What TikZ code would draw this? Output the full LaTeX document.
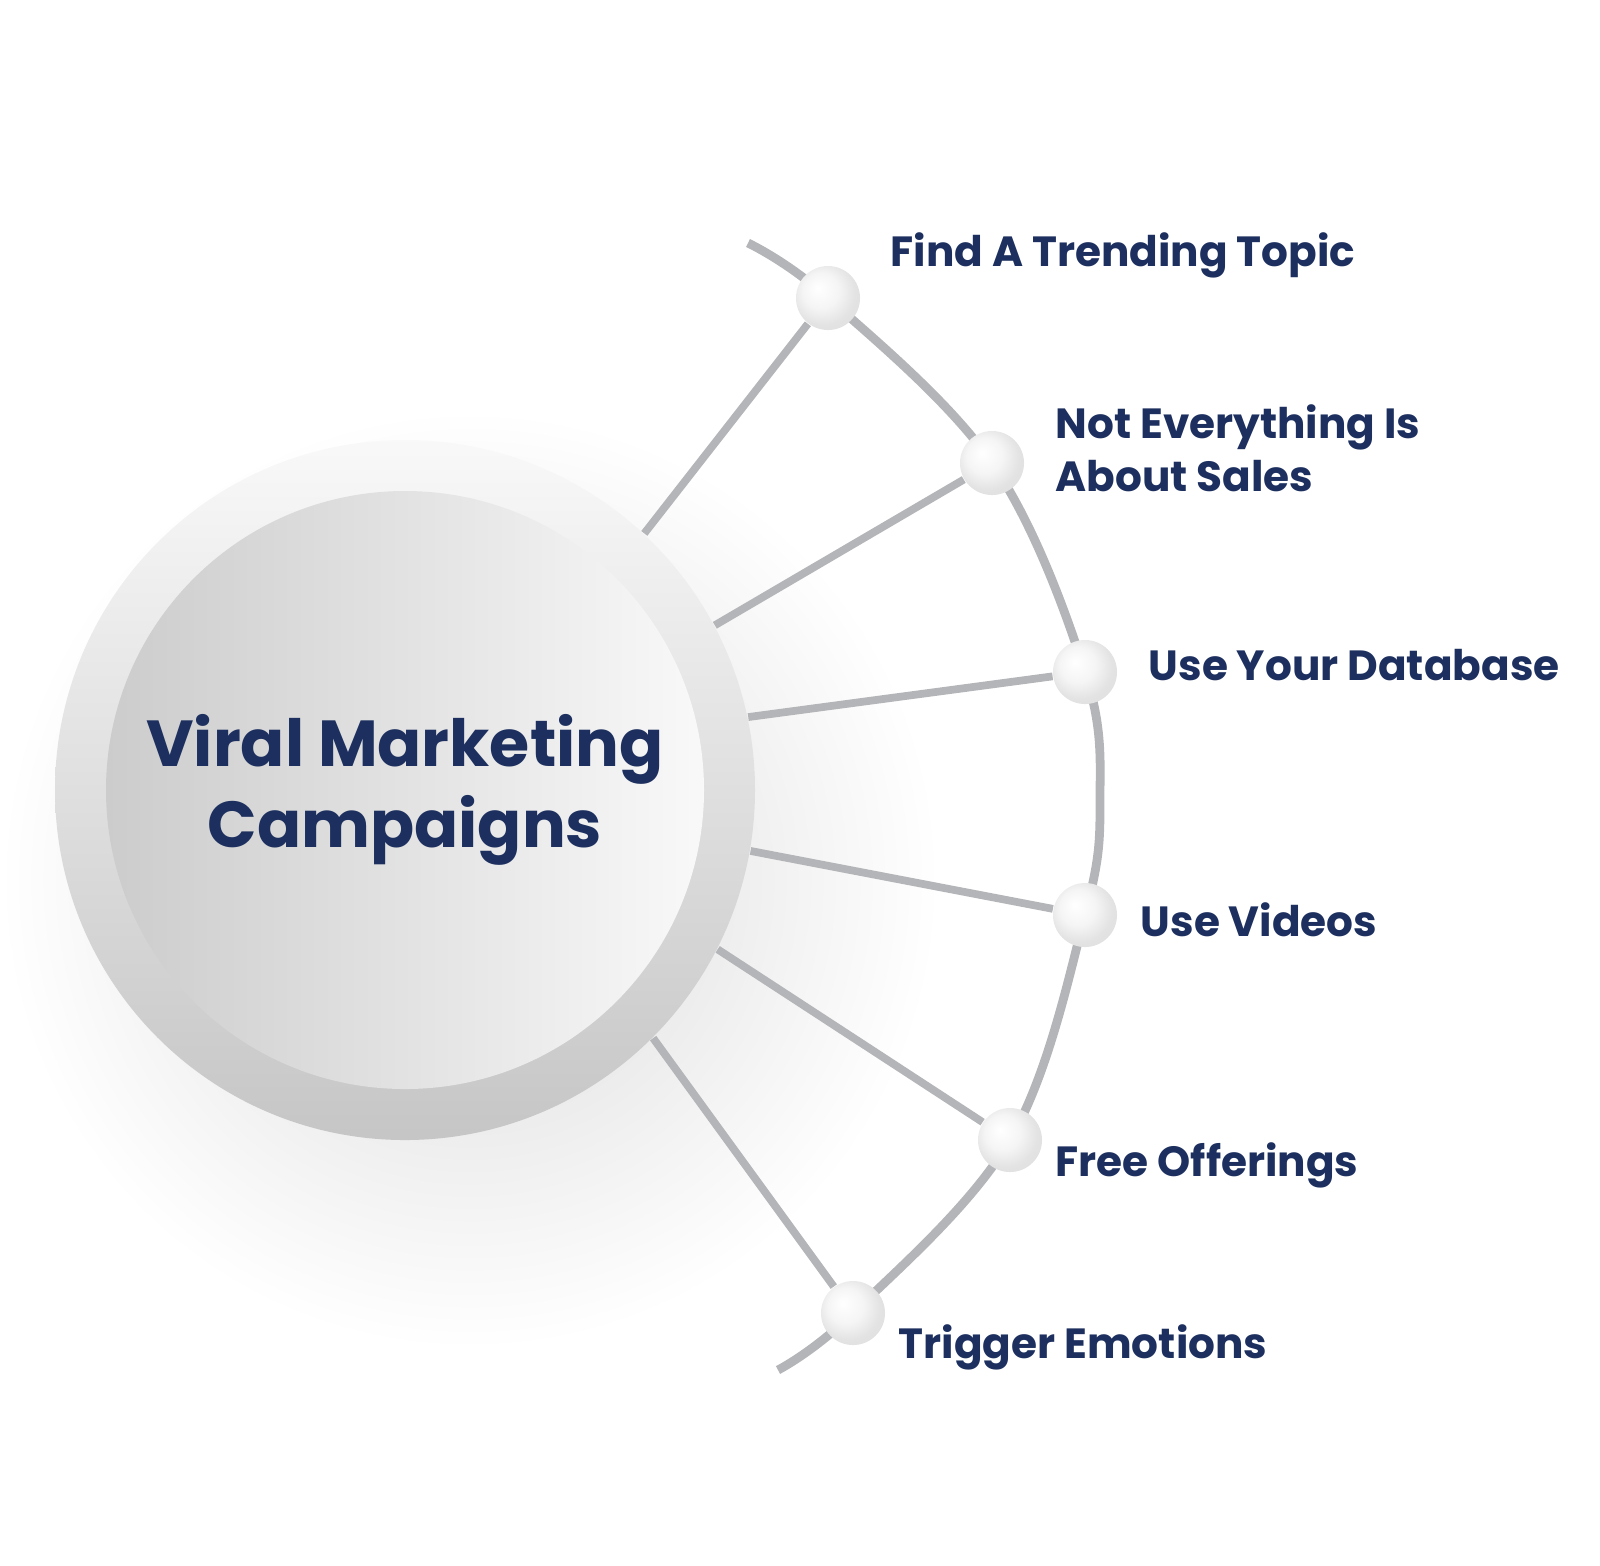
\documentclass[tikz,border=0pt]{standalone}
\usepackage{fontspec}
\setmainfont{Poppins}
\usetikzlibrary{positioning}
\definecolor{navy}{HTML}{1C2F5E}
\definecolor{spoke}{HTML}{B4B5B8}
\pgfdeclareradialshading{pearl}{\pgfpoint{-8bp}{8bp}}{color(0bp)=(white); color(14bp)=(gray!8); color(25bp)=(gray!22); color(50bp)=(gray!30)}
\tikzset{
  dot/.style={circle, minimum size=0.64cm, inner sep=0pt, shading=pearl},
  lbl/.style={text=navy, font=\bfseries\fontsize{12}{15}\selectfont, align=left, anchor=west, inner sep=0pt},
  link/.style={draw=spoke, line width=2.2pt}
}
\begin{document}
\begin{tikzpicture}[x=0.01cm,y=-0.01cm]
\useasboundingbox (0,0) rectangle (1600,1565);
% soft shadow
\shade[inner color=gray!30, outer color=white] (470,880) circle (470);
% hub
\node[circle, minimum size=7cm, inner sep=0pt] (hub) at (405,790) {};
\shade[left color=gray!5, right color=gray!45, shading angle=0] (hub.center) circle (350);
\shade[left color=gray!40, right color=gray!5] (405,790) circle (299);
\node[text=navy, font=\bfseries\fontsize{18.5}{23}\selectfont, align=center] (title) at (hub.center) {Viral Marketing\\Campaigns};
% arc
\draw[spoke, line width=2.5pt] plot[smooth, tension=0.6] coordinates
  {(748,243) (828,298) (992,463) (1085,672) (1100,800) (1085,915) (1010,1140) (853,1313) (778,1370)};
% dots
\node[dot] (d1) at (828,298) {};
\node[dot] (d2) at (992,463) {};
\node[dot] (d3) at (1085,672) {};
\node[dot] (d4) at (1085,915) {};
\node[dot] (d5) at (1010,1140) {};
\node[dot] (d6) at (853,1313) {};
% spokes
\foreach \i/\a in {1/47, 2/28, 3/12, 4/-10, 5/-27, 6/-45}
  \path[link] (hub.\a) -- (d\i);
% labels
\node[lbl] (t1) at (890,255) {Find A Trending Topic};
\node[lbl] (t2) at (1055,448) {Not Everything Is\\About Sales};
\node[lbl] (t3) at (1148,665) {Use Your Database};
\node[lbl] (t4) at (1140,920) {Use Videos};
\node[lbl] (t5) at (1055,1165) {Free Offerings};
\node[lbl] (t6) at (898,1347) {Trigger Emotions};
\end{tikzpicture}
\end{document}
